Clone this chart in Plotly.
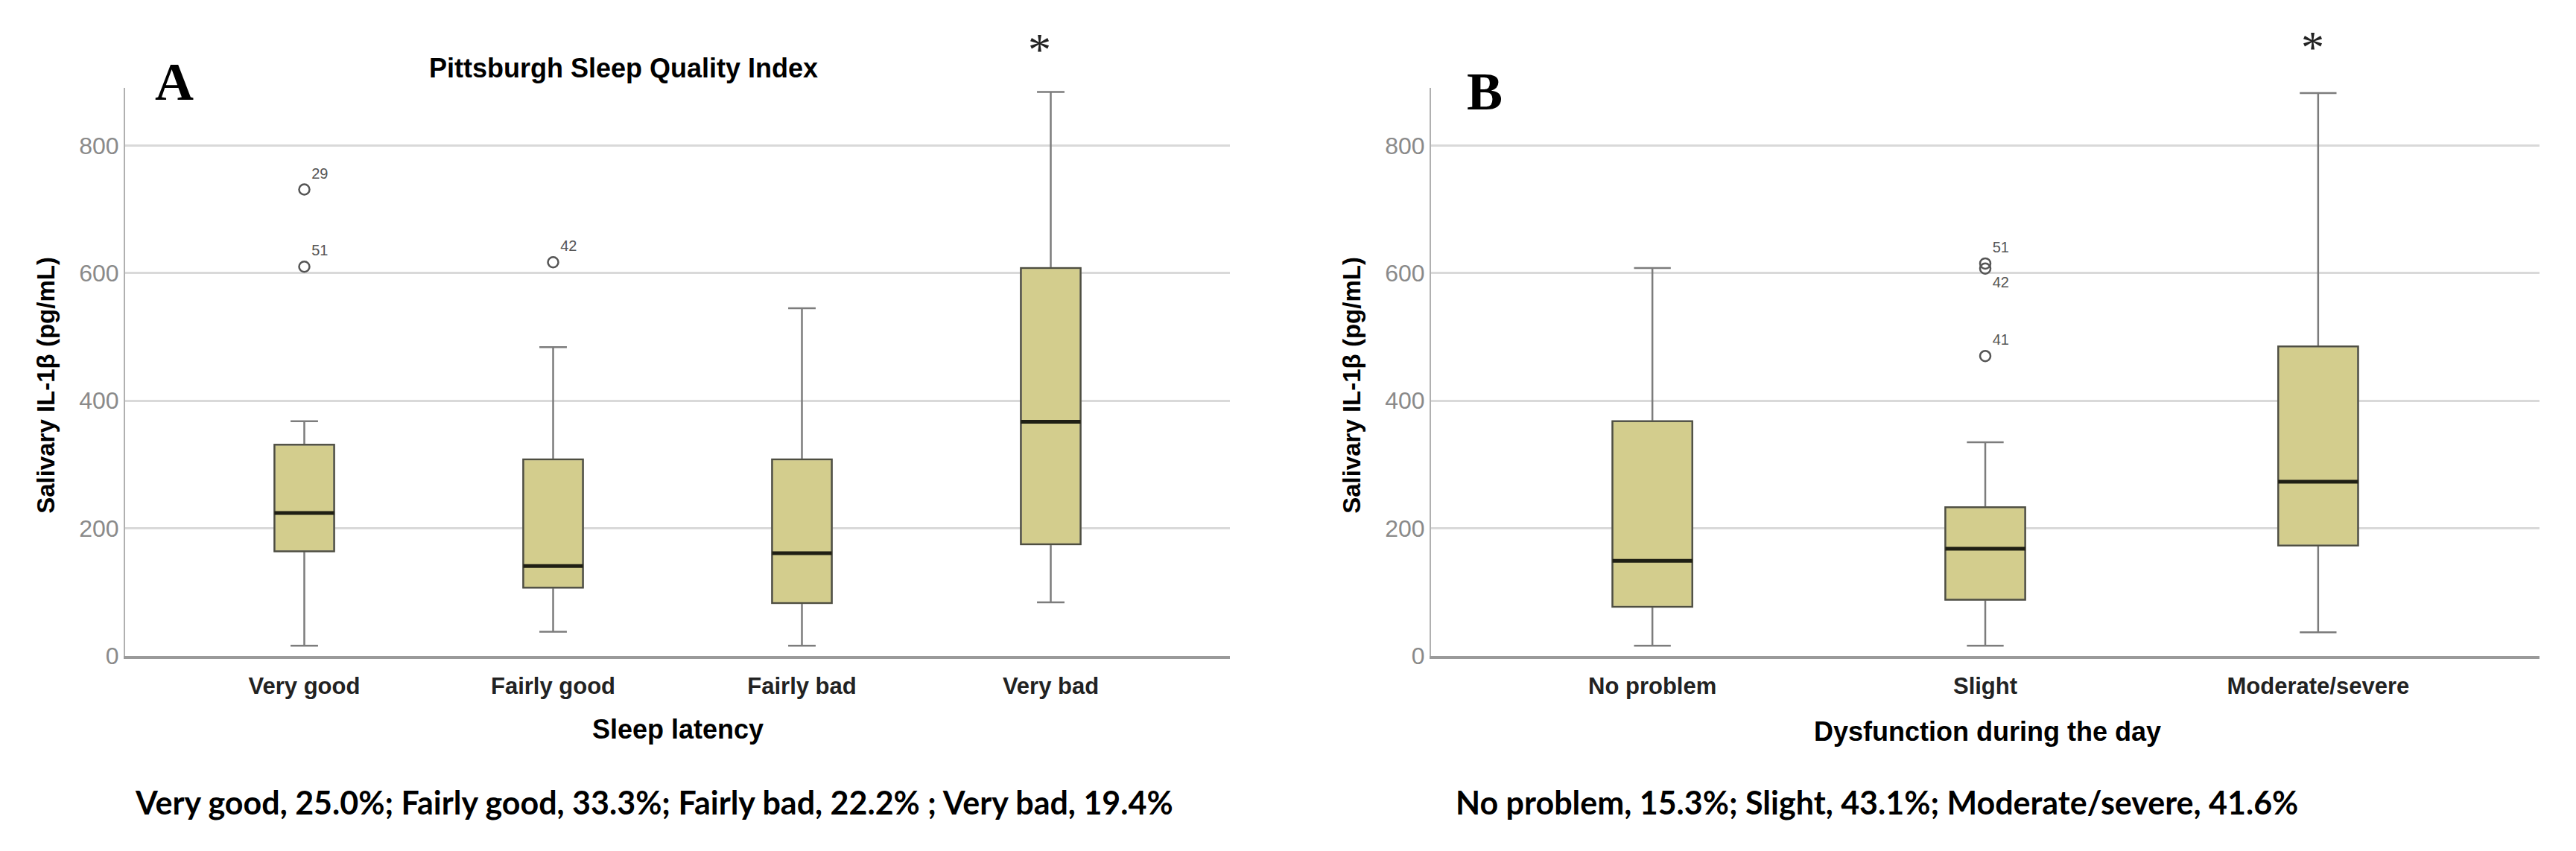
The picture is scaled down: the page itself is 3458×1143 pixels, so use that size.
import plotly.graph_objects as go

W, H = 3458, 1143

# ---------------- data ----------------
cats_a = ["Very good", "Fairly good", "Fairly bad", "Very bad"]
q1_a = [164, 107, 83, 175]
med_a = [224, 141, 161, 367]
q3_a = [331, 308, 308, 608]
lo_a = [16, 38, 16, 84]
hi_a = [368, 484, 545, 884]
out_a_cat = [0, 0, 1]
out_a_val = [731, 610, 617]
out_a_id = ["29", "51", "42"]

cats_b = ["No problem", "Slight", "Moderate/severe"]
q1_b = [77, 88, 173]
med_b = [149, 168, 273]
q3_b = [368, 233, 485]
lo_b = [16, 16, 37]
hi_b = [608, 335, 882]
out_b_cat = [1, 1, 1]
out_b_val = [615, 607, 470]
out_b_id = ["51", "42", "41"]

yticks = [0, 200, 400, 600, 800]
title_a = "Pittsburgh Sleep Quality Index"
xtitle_a = "Sleep latency"
xtitle_b = "Dysfunction during the day"
ytitle = "Salivary IL-1β (pg/mL)"
note_a = "Very good, 25.0%; Fairly good, 33.3%; Fairly bad, 22.2% ; Very bad, 19.4%"
note_b = "No problem, 15.3%; Slight, 43.1%; Moderate/severe, 41.6%"

# ---------------- styles ----------------
FILL = "#D3CD8D"
WHISK = "#7c7c7c"
EDGE = "#4e4e40"
MED = "#1f1f14"
SANS = "Arial, Liberation Sans, sans-serif"
BOXW = 0.24
out_a_pos = ["top right", "top right", "top right"]
out_b_pos = ["top right", "bottom right", "top right"]

fig = go.Figure()


def add_panel(cats, q1, med, q3, lo, hi, oc, ov, oid, opos, xa, ya):
    xs = list(range(len(cats)))
    fig.add_trace(go.Box(
        x=xs, q1=q1, median=med, q3=q3, lowerfence=lo, upperfence=hi,
        width=BOXW, whiskerwidth=0.46, fillcolor=FILL,
        line=dict(color=WHISK, width=2.5), boxpoints=False,
        xaxis=xa, yaxis=ya, showlegend=False, hoverinfo="skip"))
    fig.add_trace(go.Scatter(
        x=oc, y=ov, mode="markers+text", text=oid, textposition=opos,
        textfont=dict(family=SANS, size=20, color="#555555"),
        marker=dict(symbol="circle-open", size=14, color="#555555",
                    line=dict(width=2.5)),
        xaxis=xa, yaxis=ya, showlegend=False, hoverinfo="skip",
        cliponaxis=False))
    xr = "x" if xa == "x" else "x2"
    yr = "y" if ya == "y" else "y2"
    for i in xs:
        fig.add_shape(type="rect", xref=xr, yref=yr,
                      x0=i - BOXW / 2, x1=i + BOXW / 2, y0=q1[i], y1=q3[i],
                      line=dict(color=EDGE, width=2), fillcolor="rgba(0,0,0,0)",
                      layer="above")
        fig.add_shape(type="line", xref=xr, yref=yr,
                      x0=i - BOXW / 2, x1=i + BOXW / 2, y0=med[i], y1=med[i],
                      line=dict(color=MED, width=5), layer="above")


add_panel(cats_a, q1_a, med_a, q3_a, lo_a, hi_a, out_a_cat, out_a_val,
          out_a_id, out_a_pos, "x", "y")
add_panel(cats_b, q1_b, med_b, q3_b, lo_b, hi_b, out_b_cat, out_b_val,
          out_b_id, out_b_pos, "x2", "y2")

ydom = [(H - 887) / H, (H - 112) / H]

xcommon = dict(showline=True, linecolor="#9a9a9a", linewidth=4, showgrid=False,
               zeroline=False, ticks="", ticklabelstandoff=10,
               tickfont=dict(family=SANS, size=31, color="#222222", weight="bold"))
ycommon = dict(range=[0, 890], tickvals=yticks, showline=True, linecolor="#b0b0b0",
               linewidth=2, showgrid=True, gridcolor="#d9d9d9", gridwidth=3,
               zeroline=False, ticks="",
               tickfont=dict(family=SANS, size=32, color="#8a8a8a"), domain=ydom)

fig.update_layout(
    width=W, height=H, margin=dict(l=0, r=0, t=0, b=0),
    paper_bgcolor="white", plot_bgcolor="white", showlegend=False,
    xaxis=dict(domain=[160 / W, 1643 / W], range=[-0.72, len(cats_a) - 1 + 0.72],
               tickvals=list(range(len(cats_a))), ticktext=cats_a, anchor="y",
               **xcommon),
    yaxis=dict(anchor="x", **ycommon),
    xaxis2=dict(domain=[1913 / W, 3401 / W], range=[-0.665, len(cats_b) - 1 + 0.665],
                tickvals=list(range(len(cats_b))), ticktext=cats_b, anchor="y2",
                **xcommon),
    yaxis2=dict(anchor="x2", **ycommon),
)


def ann(text, xpx, ypx, size, family=SANS, bold=True, color="black",
        xanchor="center", angle=0):
    fig.add_annotation(text=text, x=xpx / W, y=(H - ypx) / H, xref="paper",
                       yref="paper", showarrow=False, xanchor=xanchor,
                       yanchor="middle", textangle=angle,
                       font=dict(family=family, size=size, color=color,
                                 weight="bold" if bold else "normal"))


SERIF = "Liberation Serif, Times New Roman, serif"
ann(title_a, 829, 85, 36)
ann("A", 226, 104, 72, family=SERIF)
ann("B", 1985, 117, 72, family=SERIF)
ann(ytitle, 54, 518, 33, angle=-90)
ann(ytitle, 1807, 518, 33, angle=-90)
ann(xtitle_a, 902, 987, 36)
ann(xtitle_b, 2660, 990, 36)
ann("*", 1387, 59, 62, family=SERIF, bold=False, color="#222222")
ann("*", 3096, 56, 62, family=SERIF, bold=False, color="#222222")
ann(note_a, 171, 1087, 43, family="Lato, sans-serif", bold=True, xanchor="left")
ann(note_b, 1944, 1087, 43, family="Lato, sans-serif", bold=True, xanchor="left")

fig.write_html("out.html")
